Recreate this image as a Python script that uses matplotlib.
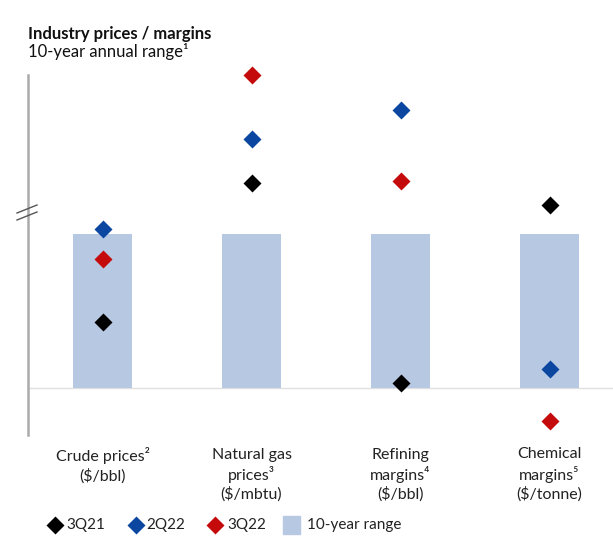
import matplotlib
matplotlib.use("Agg")
import matplotlib.pyplot as plt
from matplotlib.lines import Line2D
from matplotlib.patches import Rectangle

plt.rcParams['font.family'] = ['Lato', 'DejaVu Sans']

categories = ["Crude prices²\n($/bbl)", "Natural gas\nprices³\n($/mbtu)",
              "Refining\nmargins⁴\n($/bbl)", "Chemical\nmargins⁵\n($/tonne)"]
# normalized position within 10-year range (0 = low, 1 = high)
range_low = [0, 0, 0, 0]
range_high = [1, 1, 1, 1]
q3_21 = [0.43, 1.33, 0.032, 1.188]
q2_22 = [1.03, 1.617, 1.805, 0.123]
q3_22 = [0.838, 2.03, 1.344, -0.214]
series_names = ["3Q21", "2Q22", "3Q22"]
range_name = "10-year range"

c_bar = "#b7c9e2"
c_black = "#000000"
c_blue = "#0b47a1"
c_red = "#c40a0a"

W, H = 613, 542
fig = plt.figure(figsize=(W/100, H/100), dpi=100)
ax = fig.add_axes([28/W, 107/H, 1 - 28/W, (435-45)/H])
x = range(len(categories))
ax.bar(x, [h - l for h, l in zip(range_high, range_low)], bottom=range_low,
       width=0.4, color=c_bar, zorder=1)
ms = 9.5
ax.plot(x, q3_21, 'D', color=c_black, ms=ms, mec='none', zorder=3)
ax.plot(x, q2_22, 'D', color=c_blue, ms=ms, mec='none', zorder=3)
ax.plot(x, q3_22, 'D', color=c_red, ms=ms, mec='none', zorder=3)
ax.axhline(0, color="#e0e0e0", lw=1, zorder=0)

ax.set_xlim(-0.5, 3.426)
ax.set_ylim(-0.305, 2.227)
for s in ['top', 'right', 'bottom']:
    ax.spines[s].set_visible(False)
ax.spines['left'].set_color("#aaaaaa")
ax.spines['left'].set_linewidth(1.8)
ax.spines['left'].set_bounds(-0.305, 2.03)
ax.set_yticks([])
ax.set_xticks(list(x))
ax.set_xticklabels(categories, fontsize=11.5, color="#222222", linespacing=1.3, va='top')
ax.tick_params(axis='x', length=0, pad=9)

# axis break marks
for dy in (0, 7):
    fig.add_artist(Line2D([17/W, 37/W], [1 - (213+dy)/H, 1 - (205+dy)/H],
                          color="#555555", lw=1))

fig.text(28/W, 1 - 39/H, "Industry prices / margins", fontsize=12,
         fontweight='bold', color="#111111", va='baseline')
fig.text(28/W, 1 - 57/H, "10-year annual range¹", fontsize=12,
         color="#111111", va='baseline')

# legend (manual)
ly = 1 - 525/H
for mx, tx, col, name in zip([55, 136, 215], [66, 146, 227],
                             [c_black, c_blue, c_red], series_names):
    fig.add_artist(Line2D([mx/W], [ly], marker='D', ls='none', color=col,
                          ms=ms, mec='none'))
    fig.text(tx/W, ly, name, fontsize=11, color="#222222", va='center', ha='left')
fig.add_artist(Rectangle((283/W, 1 - 534/H), 17/W, 18/H, color=c_bar,
                         transform=fig.transFigure))
fig.text(307/W, ly, range_name, fontsize=11, color="#222222", va='center', ha='left')

fig.savefig("out.png", dpi=100)
